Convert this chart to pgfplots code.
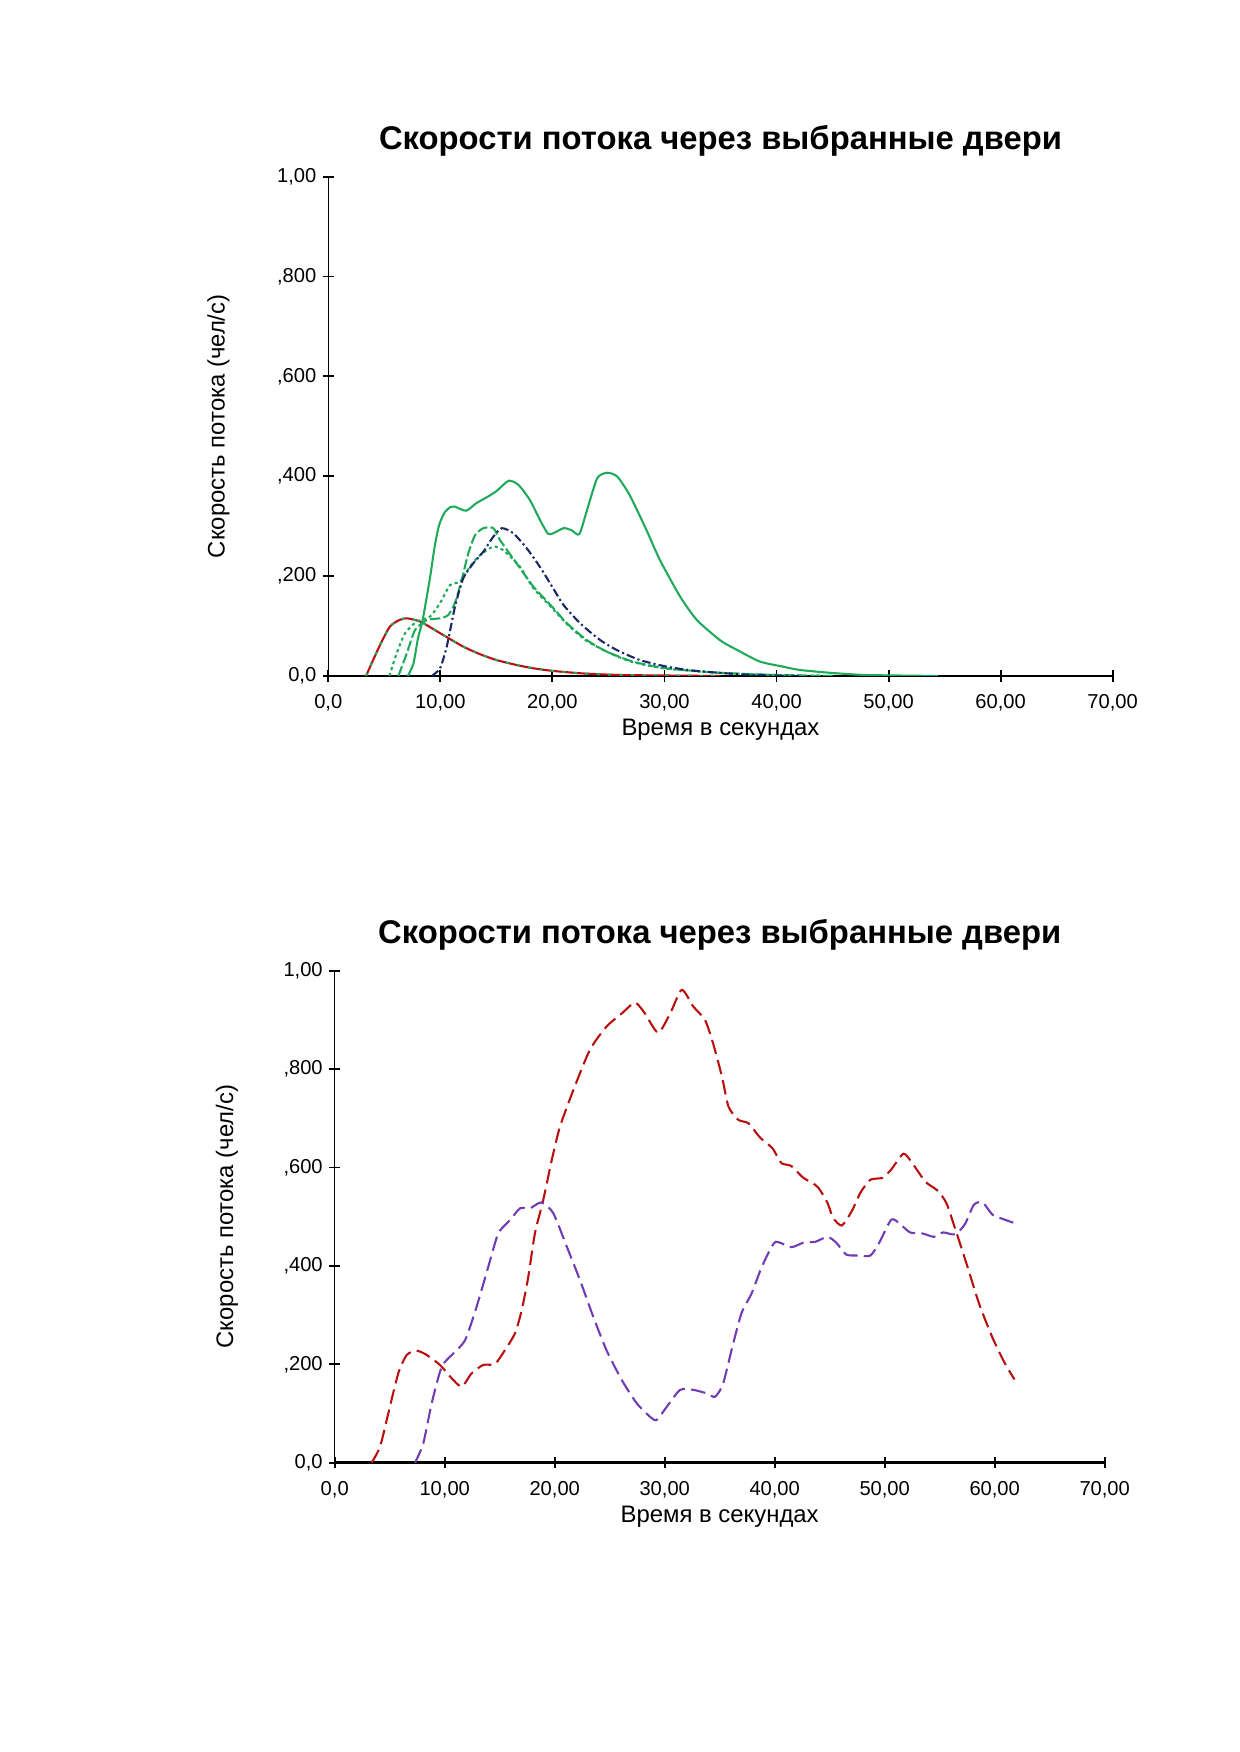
\documentclass[border=0pt]{standalone}
\usepackage{fontspec}
\setmainfont{Liberation Sans}
\usepackage{pgfplots}
\pgfplotsset{compat=1.18}
\definecolor{cred}{RGB}{185,15,15}
\definecolor{cgreen}{RGB}{30,170,90}
\definecolor{cnavy}{RGB}{25,40,100}
\definecolor{cpurple}{RGB}{112,60,180}
\pgfplotsset{common/.style={
  scale only axis,
  xmin=0, xmax=70, ymin=0, ymax=1,
  axis x line*=bottom, axis y line*=left,
  x axis line style={line width=1.2bp},
  y axis line style={line width=0.6bp},
  xtick={0,10,20,30,40,50,60,70},
  xticklabels={{0,0},{10,00},{20,00},{30,00},{40,00},{50,00},{60,00},{70,00}},
  ytick={0,0.2,0.4,0.6,0.8,1},
  yticklabels={{0,0},{,200},{,400},{,600},{,800},{1,00}},
  tick align=center, major tick length=5.5bp,
  tick style={black, line width=0.9bp},
  tick label style={font=\fontsize{9.7}{11}\selectfont},
  xticklabel style={yshift=-2.5bp},
  yticklabel style={xshift=0.5bp},
  title style={at={(0.5,1)}, anchor=base, yshift=7bp, font=\bfseries\fontsize{15.8}{18}\selectfont},
  xlabel style={at={(0.5,0)}, anchor=base, yshift=-28.8bp, font=\fontsize{11.5}{13}\selectfont},
  ylabel style={at={(axis description cs:-0.14,0.5)}, anchor=center, rotate=0, font=\fontsize{11.5}{13}\selectfont},
  title={Скорости потока через выбранные двери},
  xlabel={Время в секундах},
  ylabel={Скорость потока (чел/с)},
  every axis plot/.append style={line width=1bp, smooth, tension=0.4},
}}
\begin{document}
\begin{tikzpicture}
\path[use as bounding box] (0,0) rectangle (594.72bp,840.96bp);
\begin{axis}[common, at={(157.58bp,516.48bp)}, anchor=south west, width=376.5bp, height=239.7bp]
% red
\addplot[cred] coordinates {(3.37,0) (4.0,0.032) (4.77,0.069) (5.5,0.099) (6.25,0.111) (7.0,0.1155) (8.2,0.109) (9.4,0.0935) (10.6,0.0775) (12.05,0.0587) (13.5,0.044) (15.0,0.032) (16.8,0.022) (18.3,0.0154) (20.1,0.010) (22.8,0.005) (26,0.002) (30,0.001) (35,0)};
\addplot[cgreen, dash pattern=on 1.5bp off 4bp] coordinates {(3.37,0) (4.0,0.032) (4.77,0.069) (5.5,0.099) (6.25,0.111) (7.0,0.1155) (8.2,0.109) (9.4,0.0935) (10.6,0.0775) (12.05,0.0587) (13.5,0.044) (15.0,0.032) (16.8,0.022) (18.3,0.0154) (20.1,0.010) (22.8,0.005) (26,0.002) (30,0.001) (35,0)};
% green solid
\addplot[cgreen] coordinates {(7.1,0) (7.6,0.025) (8.0,0.075) (8.4,0.11) (8.8,0.16) (9.1,0.2) (9.5,0.26) (9.9,0.303) (10.4,0.328) (10.9,0.338) (11.3,0.339) (12.3,0.331) (13.2,0.346) (14.0,0.356) (15.0,0.37) (16.1,0.391) (17.0,0.382) (18.0,0.352) (18.9,0.312) (19.6,0.285) (20.1,0.286) (21.0,0.296) (21.7,0.292) (22.4,0.284) (23.1,0.333) (24.0,0.396) (24.9,0.407) (25.8,0.399) (26.9,0.362) (28.4,0.292) (29.6,0.232) (31.4,0.159) (32.9,0.112) (35.0,0.071) (36.5,0.052) (38.5,0.029) (40.6,0.0186) (42.1,0.012) (45,0.006) (48,0.002) (54.4,0)};
% green dashed
\addplot[cgreen, dash pattern=on 5bp off 1.5bp] coordinates {(6.25,0) (7.0,0.045) (7.74,0.092) (8.79,0.112) (9.97,0.1155) (10.7,0.122) (11.3,0.146) (11.9,0.192) (12.5,0.246) (13.1,0.282) (13.84,0.296) (14.73,0.296) (15.33,0.272) (16.8,0.2257) (18.3,0.179) (20.1,0.1356) (21.3,0.1055) (23.07,0.072) (24.86,0.0487) (27.2,0.0287) (30.2,0.0154) (34.7,0.0067) (40,0.002) (45,0)};
% green dotted
\addplot[cgreen, dash pattern=on 1.5bp off 1.5bp] coordinates {(5.45,0) (6.1,0.045) (6.85,0.0855) (7.9,0.109) (9.08,0.119) (9.97,0.146) (10.87,0.182) (11.76,0.189) (12.65,0.219) (13.54,0.242) (14.73,0.259) (15.6,0.252) (17.1,0.219) (18.3,0.176) (20.1,0.133) (21.3,0.104) (23,0.071) (25,0.047) (27,0.029) (30,0.015) (35,0.006) (40,0.002) (45,0)};
% navy dash-dot
\addplot[cnavy, dash pattern=on 4bp off 1.5bp on 1bp off 1.5bp] coordinates {(9.23,0) (9.97,0.0154) (10.57,0.0587) (11.31,0.139) (12.05,0.196) (12.95,0.226) (13.84,0.249) (14.73,0.279) (15.48,0.296) (16.5,0.286) (17.7,0.256) (18.9,0.218) (20.0,0.178) (21.0,0.142) (22.5,0.105) (24.26,0.072) (25.75,0.052) (27.8,0.032) (30.2,0.0187) (32.6,0.0107) (35.6,0.0053) (37.9,0.002) (42,0)};
\end{axis}
\begin{axis}[common, at={(160.66bp,138.86bp)}, anchor=south west, width=369.6bp, height=236.2bp]
% red dashed
\addplot[cred, dash pattern=on 7bp off 3bp] coordinates {(3.36,0) (4.12,0.0325) (4.87,0.100) (5.78,0.1817) (6.55,0.219) (7.45,0.2277) (8.36,0.219) (9.57,0.1986) (10.64,0.1715) (11.55,0.1545) (12.45,0.1817) (13.5,0.1986) (14.57,0.2006) (15.48,0.229) (16.39,0.263) (17.0,0.310) (17.6,0.378) (18.2,0.466) (18.96,0.534) (19.73,0.615) (20.48,0.683) (21.7,0.7575) (23.2,0.839) (24.7,0.886) (26.1,0.913) (27.3,0.935) (28.2,0.913) (29.4,0.874) (30.5,0.913) (31.55,0.961) (32.6,0.927) (33.66,0.900) (34.4,0.852) (35.2,0.785) (35.8,0.7236) (36.7,0.6966) (37.6,0.690) (38.7,0.660) (39.8,0.639) (40.6,0.609) (41.5,0.603) (42.6,0.579) (43.4,0.569) (44.0,0.558) (44.8,0.528) (45.3,0.498) (46.1,0.482) (47.0,0.511) (47.8,0.549) (48.7,0.575) (49.8,0.579) (50.6,0.596) (51.7,0.628) (52.5,0.609) (53.7,0.571) (54.8,0.553) (55.6,0.528) (56.4,0.476) (57.5,0.400) (58.6,0.322) (59.8,0.254) (60.9,0.203) (61.8,0.169)};
% purple dashed
\addplot[cpurple, dash pattern=on 7bp off 3bp] coordinates {(7.3,0) (8.05,0.039) (8.82,0.121) (9.73,0.195) (10.78,0.222) (11.85,0.249) (12.9,0.317) (13.96,0.398) (14.87,0.466) (15.94,0.493) (16.85,0.517) (17.75,0.517) (18.8,0.529) (19.87,0.507) (21.1,0.439) (22.3,0.371) (23.5,0.297) (24.7,0.229) (26.1,0.168) (27.45,0.121) (28.66,0.0935) (29.27,0.0868) (30.2,0.114) (31.4,0.148) (32.6,0.148) (33.8,0.141) (34.57,0.134) (35.3,0.16) (36.2,0.24) (37.0,0.305) (37.9,0.344) (38.7,0.391) (39.4,0.425) (40.1,0.449) (41.5,0.438) (42.6,0.447) (43.7,0.449) (44.8,0.459) (45.6,0.447) (46.5,0.423) (47.6,0.421) (48.7,0.421) (49.5,0.447) (50.6,0.494) (51.4,0.485) (52.3,0.468) (53.4,0.466) (54.5,0.459) (55.3,0.468) (56.4,0.464) (57.3,0.485) (58.1,0.524) (58.9,0.529) (59.8,0.504) (60.9,0.494) (61.8,0.487)};
\end{axis}
\end{tikzpicture}
\end{document}
